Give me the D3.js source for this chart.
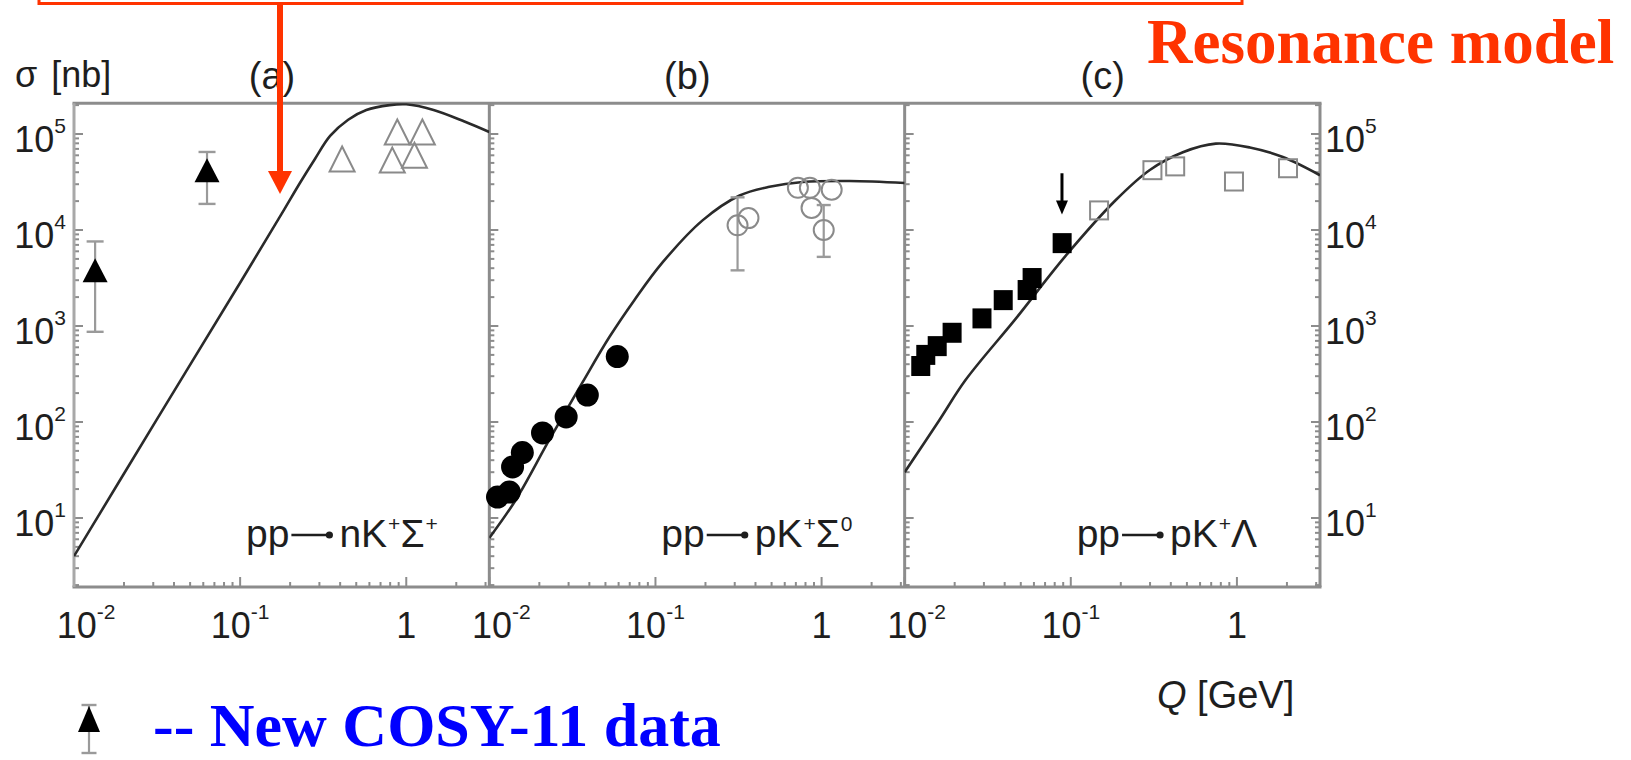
<!DOCTYPE html>
<html>
<head>
<meta charset="utf-8">
<title>pp → K⁺ hyperon production cross sections</title>
<script src="https://cdn.jsdelivr.net/npm/d3@7/dist/d3.min.js"></script>
<style>
  html, body { margin: 0; padding: 0; background: #fff; }
  svg { display: block; }
  .sans { font-family: "Liberation Sans", Arial, Helvetica, sans-serif; fill: #1e1e1e; }
  .serif { font-family: "Liberation Serif", "Times New Roman", serif; font-weight: bold; }
</style>
</head>
<body>
<svg id="chart" width="1631" height="760"></svg>
<script>
// ---------- data ----------
const panelLetters = ["(a)", "(b)", "(c)"];
const reactionInitial = ["pp", "pp", "pp"];
const reactionFinal = [
  [["n", ""], ["K", "+"], ["Σ", "+"]],
  [["p", ""], ["K", "+"], ["Σ", "0"]],
  [["p", ""], ["K", "+"], ["Λ", ""]]
];
const qTickValues = [0.01, 0.1, 1];
const qTickBases = ["10", "10", "1"];
const qTickExps = ["-2", "-1", ""];
const sigmaTickValues = [1e1, 1e2, 1e3, 1e4, 1e5];
const sigmaTickExps = ["1", "2", "3", "4", "5"];

// (a) pp -> n K+ Sigma+   (Q in GeV, sigma in nb)
const modelA_Q     = [0.01, 0.0316, 0.1, 0.178, 0.229, 0.282, 0.348, 0.447, 0.575, 0.794, 1.0, 1.46, 2.24, 3.16];
const modelA_sigma = [4.0, 107, 2820, 14800, 30900, 55000, 95500, 141000, 178000, 200000, 204000, 178000, 135000, 105000];
const cosyA_Q      = [0.0134, 0.0632];
const cosyA_sigma  = [3800, 42000];
const cosyA_lo     = [870, 18700];
const cosyA_hi     = [7600, 65000];
const olderA_Q     = [0.411, 0.824, 0.883, 1.25, 1.12];
const olderA_sigma = [55000, 53500, 105000, 105000, 60000];

// (b) pp -> p K+ Sigma0
const modelB_Q     = [0.01, 0.01445, 0.0229, 0.0363, 0.0528, 0.0746, 0.110, 0.192, 0.321, 0.486, 0.769, 1.476, 3.16];
const modelB_sigma = [6.2, 15.5, 64.6, 257, 767, 1860, 4570, 12600, 22900, 28200, 31600, 32400, 30900];
const nearB_Q      = [0.0112, 0.0132, 0.0138, 0.0158, 0.0209, 0.029, 0.0389, 0.0589];
const nearB_sigma  = [16.5, 18.6, 34, 48, 77, 113, 191, 480];
const farB_Q       = [0.312, 0.363, 0.72, 0.85, 1.15, 0.87, 1.03];
const farB_sigma   = [11200, 13300, 27500, 27500, 26300, 17000, 10000];
const farB_lo      = [3800, null, null, null, null, null, 5250];
const farB_hi      = [21900, null, null, null, null, null, 18200];

// (c) pp -> p K+ Lambda
const modelC_Q     = [0.01, 0.0162, 0.0233, 0.0468, 0.092, 0.186, 0.299, 0.473, 0.746, 1.197, 1.89, 3.16];
const modelC_sigma = [30, 105, 275, 1200, 5250, 20400, 42200, 64600, 79400, 72400, 57500, 37200];
const nearC_Q      = [0.0125, 0.0134, 0.0157, 0.0193, 0.0292, 0.0392, 0.0546, 0.0585, 0.0887];
const nearC_sigma  = [383, 500, 617, 850, 1200, 1860, 2370, 3160, 7300];
const farC_Q       = [0.148, 0.31, 0.425, 0.96, 2.03];
const farC_sigma   = [16000, 42000, 46000, 32000, 44000];
const markC_Q      = 0.0885;
const markC_from   = 39000;
const markC_to     = 14500;

// ---------- layout ----------
const svg = d3.select("#chart");
const plotLeft = 74, plotTop = 103.3, plotBottom = 587, panelW = 415.33;
const qDomain = [0.01, Math.sqrt(10)];
const sigmaDomain = [Math.pow(10, 0.281), Math.pow(10, 5.32)];
const axisGrey = "#8c8c8c";
const markGrey = "#8a8a8a";
const ink = "#1e1e1e";
const red = "#ff3300";

const y = d3.scaleLog().domain(sigmaDomain).range([plotBottom, plotTop]);
const xs = [0, 1, 2].map(i =>
  d3.scaleLog().domain(qDomain).range([plotLeft + i * panelW, plotLeft + (i + 1) * panelW]));
const plotRight = plotLeft + 3 * panelW;

const zip = (qs, ss) => qs.map((q, i) => ({ q, s: ss[i] }));
const isDecade = v => Math.abs(Math.log10(v) - Math.round(Math.log10(v))) < 1e-9;

// clip paths for the model curves
const defs = svg.append("defs");
xs.forEach((x, i) => {
  defs.append("clipPath").attr("id", "clip" + i)
    .append("rect")
    .attr("x", x.range()[0]).attr("y", plotTop)
    .attr("width", panelW).attr("height", plotBottom - plotTop);
});

// ---------- frame & ticks ----------
const frame = svg.append("g");
function vTicks(xPos, dir) {
  y.ticks().forEach(v => {
    const len = isDecade(v) ? 9 : 5;
    frame.append("line")
      .attr("x1", xPos).attr("x2", xPos + dir * len)
      .attr("y1", y(v)).attr("y2", y(v))
      .attr("stroke", axisGrey).attr("stroke-width", 2);
  });
}
xs.forEach((x, i) => {
  vTicks(x.range()[0], 1);
  x.ticks().forEach(v => {
    const len = isDecade(v) ? 10 : 5;
    frame.append("line")
      .attr("x1", x(v)).attr("x2", x(v))
      .attr("y1", plotBottom).attr("y2", plotBottom - len)
      .attr("stroke", axisGrey).attr("stroke-width", 2);
  });
});
vTicks(plotRight, -1);

// frame lines
frame.append("line").attr("x1", plotLeft - 1.5).attr("x2", plotRight + 1.5)
  .attr("y1", plotTop).attr("y2", plotTop)
  .attr("stroke", axisGrey).attr("stroke-width", 3);
frame.append("line").attr("x1", plotLeft - 1.5).attr("x2", plotRight + 1.5)
  .attr("y1", plotBottom).attr("y2", plotBottom)
  .attr("stroke", axisGrey).attr("stroke-width", 3);
[...xs.map(x => x.range()[0]), plotRight].forEach((xp, i) => {
  frame.append("line").attr("x1", xp).attr("x2", xp)
    .attr("y1", plotTop).attr("y2", plotBottom)
    .attr("stroke", i === 0 ? "#a8a8a8" : axisGrey).attr("stroke-width", 3);
});

// ---------- tick labels ----------
const labels = svg.append("g").attr("class", "sans");
function powLabel(x, yPos, base, exp, anchor) {
  const t = labels.append("text")
    .attr("x", x).attr("y", yPos)
    .attr("text-anchor", anchor)
    .style("font-size", "36px");
  t.append("tspan").text(base);
  if (exp) t.append("tspan").attr("dy", -19).style("font-size", "21px").text(exp);
  return t;
}
xs.forEach(x => {
  qTickValues.forEach((v, j) => {
    const shift = j === 0 ? 12 : 0;
    powLabel(x(v) + shift, 638, qTickBases[j], qTickExps[j], "middle");
  });
});
sigmaTickValues.forEach((v, j) => {
  powLabel(66, y(v) + 18, "10", sigmaTickExps[j], "end");
  powLabel(1325, y(v) + 18, "10", sigmaTickExps[j], "start");
});

// axis titles
const sig = labels.append("text").attr("x", 15).attr("y", 87).style("font-size", "36px");
sig.append("tspan").text("σ");
sig.append("tspan").attr("dx", 14).text("[nb]");
const qt = labels.append("text").attr("x", 1157).attr("y", 708).style("font-size", "38px");
qt.append("tspan").style("font-style", "italic").text("Q");
qt.append("tspan").text(" [GeV]");

// panel letters
xs.forEach((x, i) => {
  labels.append("text")
    .attr("x", x.range()[0] + 198).attr("y", 89)
    .attr("text-anchor", "middle").style("font-size", "38px")
    .text(panelLetters[i]);
});

// reaction labels
xs.forEach((x, i) => {
  const x0 = x.range()[0] + 172, base = 547;
  const t1 = labels.append("text").attr("x", x0).attr("y", base)
    .style("font-size", "39px").text(reactionInitial[i]);
  const w1 = t1.node().getComputedTextLength();
  const ax0 = x0 + w1 + 2, ax1 = ax0 + 38;
  labels.append("line").attr("x1", ax0).attr("x2", ax1)
    .attr("y1", base - 12).attr("y2", base - 12)
    .attr("stroke", ink).attr("stroke-width", 2.5);
  labels.append("circle").attr("cx", ax1).attr("cy", base - 12).attr("r", 3.6).attr("fill", ink);
  const t2 = labels.append("text").attr("x", ax1 + 10).attr("y", base).style("font-size", "39px");
  let raised = 0;
  reactionFinal[i].forEach(([main, sup]) => {
    t2.append("tspan").attr("dy", -raised).text(main);
    raised = 0;
    if (sup) {
      t2.append("tspan").attr("dy", -16).attr("dx", 1).style("font-size", "21px").text(sup);
      raised = -16;
    }
  });
});

// ---------- model curves ----------
const models = [zip(modelA_Q, modelA_sigma), zip(modelB_Q, modelB_sigma), zip(modelC_Q, modelC_sigma)];
models.forEach((m, i) => {
  const line = d3.line().x(d => xs[i](d.q)).y(d => y(d.s)).curve(d3.curveCatmullRom.alpha(0.5));
  svg.append("path").datum(m)
    .attr("clip-path", "url(#clip" + i + ")")
    .attr("d", line)
    .attr("fill", "none").attr("stroke", "#2a2a2a").attr("stroke-width", 2.6);
});

// ---------- markers ----------
const marks = svg.append("g");
function triangle(cx, cy, w, h) {
  return `M${cx},${cy - h / 2}L${cx + w / 2},${cy + h / 2}L${cx - w / 2},${cy + h / 2}Z`;
}
function errorBar(xp, lo, hi, cap, color) {
  marks.append("line").attr("x1", xp).attr("x2", xp).attr("y1", lo).attr("y2", hi)
    .attr("stroke", color).attr("stroke-width", 2.2);
  [lo, hi].forEach(yy => marks.append("line")
    .attr("x1", xp - cap / 2).attr("x2", xp + cap / 2).attr("y1", yy).attr("y2", yy)
    .attr("stroke", color).attr("stroke-width", 2.4));
}

// (a) older data, open triangles
zip(olderA_Q, olderA_sigma).forEach(d => {
  marks.append("path").attr("d", triangle(xs[0](d.q), y(d.s), 25, 25))
    .attr("fill", "none").attr("stroke", markGrey).attr("stroke-width", 2);
});
// (a) COSY-11 data, filled triangles with errors
cosyA_Q.forEach((q, i) => {
  const xp = xs[0](q);
  errorBar(xp, y(cosyA_lo[i]), y(cosyA_hi[i]), 17, "#9a9a9a");
  marks.append("path").attr("d", triangle(xp, y(cosyA_sigma[i]), 25, 24)).attr("fill", "#000");
});

// (b) near-threshold data, filled circles
zip(nearB_Q, nearB_sigma).forEach(d => {
  marks.append("circle").attr("cx", xs[1](d.q)).attr("cy", y(d.s)).attr("r", 11.5).attr("fill", "#000");
});
// (b) higher-energy data, open circles
farB_Q.forEach((q, i) => {
  const xp = xs[1](q);
  if (farB_lo[i] !== null) errorBar(xp, y(farB_lo[i]), y(farB_hi[i]), 14, "#9a9a9a");
  marks.append("circle").attr("cx", xp).attr("cy", y(farB_sigma[i])).attr("r", 10)
    .attr("fill", "none").attr("stroke", markGrey).attr("stroke-width", 2);
});

// (c) near-threshold data, filled squares
zip(nearC_Q, nearC_sigma).forEach(d => {
  marks.append("rect").attr("x", xs[2](d.q) - 9.5).attr("y", y(d.s) - 10)
    .attr("width", 19).attr("height", 20).attr("fill", "#000");
});
// (c) higher-energy data, open squares
zip(farC_Q, farC_sigma).forEach(d => {
  marks.append("rect").attr("x", xs[2](d.q) - 9).attr("y", y(d.s) - 9)
    .attr("width", 18).attr("height", 18)
    .attr("fill", "none").attr("stroke", markGrey).attr("stroke-width", 2);
});
// (c) marker arrow
{
  const xp = xs[2](markC_Q), y0 = y(markC_from), y1 = y(markC_to);
  marks.append("line").attr("x1", xp).attr("x2", xp).attr("y1", y0).attr("y2", y1 - 8)
    .attr("stroke", "#000").attr("stroke-width", 3);
  marks.append("path").attr("d", `M${xp - 6},${y1 - 14}L${xp + 6},${y1 - 14}L${xp},${y1}Z`).attr("fill", "#000");
}

// ---------- annotations ----------
const notes = svg.append("g");
notes.append("rect").attr("x", 39).attr("y", -12).attr("width", 1203).attr("height", 15.5)
  .attr("fill", "none").attr("stroke", red).attr("stroke-width", 3);
notes.append("line").attr("x1", 280).attr("x2", 280).attr("y1", 3).attr("y2", 174)
  .attr("stroke", red).attr("stroke-width", 6);
notes.append("path").attr("d", "M268,171L292,171L280,194Z").attr("fill", red);
notes.append("text").attr("class", "serif").attr("x", 1147).attr("y", 63)
  .style("font-size", "63px").attr("fill", red).text("Resonance model");

// legend
{
  const lx = 89;
  errorBar(lx, 705, 753, 15, "#9a9a9a");
  marks.append("path").attr("d", triangle(lx, 719, 22, 26)).attr("fill", "#000");
  notes.append("text").attr("class", "serif").attr("x", 153).attr("y", 746)
    .style("font-size", "62px").attr("fill", "#0000ff").text("-- New COSY-11 data");
}
</script>
</body>
</html>
